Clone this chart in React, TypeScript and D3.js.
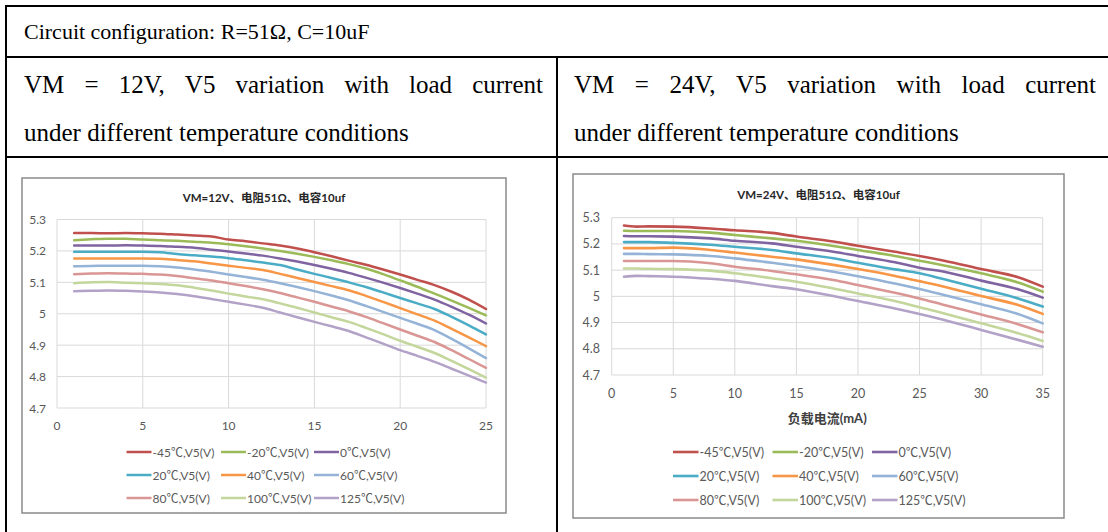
import React from 'react';
import * as d3 from 'd3';

// ---------- data ----------
const SERIES_NAMES = ['-45℃,V5(V)', '-20℃,V5(V)', '0℃,V5(V)', '20℃,V5(V)', '40℃,V5(V)', '60℃,V5(V)', '80℃,V5(V)', '100℃,V5(V)', '125℃,V5(V)'];
const SERIES_COLORS = ['#C0504D', '#9BBB59', '#8064A2', '#4BACC6', '#F79646', '#95B3D7', '#D99694', '#C3D69B', '#B3A2C7'];

const X_12V = [1, 2, 3, 4, 5, 6, 7, 8, 9, 10, 11, 12, 13, 14, 15, 16, 17, 18, 19, 20, 21, 22, 23, 24, 25];
const V12_M45 = [5.257, 5.257, 5.256, 5.257, 5.256, 5.255, 5.252, 5.249, 5.246, 5.236, 5.231, 5.224, 5.217, 5.208, 5.196, 5.183, 5.169, 5.156, 5.141, 5.125, 5.108, 5.091, 5.07, 5.045, 5.015];
const V12_M20 = [5.234, 5.237, 5.239, 5.239, 5.236, 5.234, 5.232, 5.229, 5.226, 5.221, 5.215, 5.208, 5.2, 5.191, 5.181, 5.17, 5.158, 5.144, 5.126, 5.106, 5.086, 5.064, 5.042, 5.019, 4.995];
const V12_0 = [5.217, 5.217, 5.217, 5.218, 5.217, 5.216, 5.213, 5.21, 5.204, 5.198, 5.192, 5.185, 5.176, 5.166, 5.155, 5.143, 5.13, 5.115, 5.099, 5.082, 5.064, 5.045, 5.022, 4.997, 4.969];
const V12_20 = [5.197, 5.197, 5.197, 5.197, 5.197, 5.196, 5.19, 5.186, 5.182, 5.177, 5.17, 5.163, 5.155, 5.141, 5.127, 5.114, 5.1, 5.085, 5.068, 5.05, 5.033, 5.015, 4.99, 4.963, 4.934];
const V12_40 = [5.176, 5.176, 5.176, 5.176, 5.176, 5.175, 5.171, 5.167, 5.16, 5.153, 5.146, 5.139, 5.127, 5.114, 5.101, 5.088, 5.075, 5.057, 5.038, 5.018, 4.998, 4.978, 4.952, 4.925, 4.897];
const V12_60 = [5.151, 5.152, 5.153, 5.153, 5.153, 5.151, 5.147, 5.141, 5.134, 5.125, 5.117, 5.108, 5.097, 5.085, 5.072, 5.058, 5.043, 5.025, 5.006, 4.987, 4.968, 4.948, 4.92, 4.89, 4.859];
const V12_80 = [5.126, 5.128, 5.129, 5.128, 5.127, 5.125, 5.12, 5.113, 5.106, 5.097, 5.088, 5.078, 5.066, 5.052, 5.038, 5.023, 5.008, 4.99, 4.97, 4.95, 4.93, 4.91, 4.884, 4.856, 4.828];
const V12_100 = [5.097, 5.1, 5.101, 5.099, 5.097, 5.095, 5.091, 5.083, 5.074, 5.064, 5.055, 5.046, 5.033, 5.019, 5.004, 4.989, 4.974, 4.955, 4.935, 4.914, 4.895, 4.875, 4.85, 4.824, 4.797];
const V12_125 = [5.072, 5.073, 5.074, 5.073, 5.071, 5.068, 5.063, 5.056, 5.047, 5.038, 5.029, 5.019, 5.004, 4.989, 4.974, 4.96, 4.945, 4.925, 4.905, 4.884, 4.866, 4.847, 4.825, 4.803, 4.781];

const X_24V = [1, 2, 3, 5, 8, 10, 13, 15, 18, 20, 23, 25, 27, 30, 33, 35];
const V24_M45 = [5.27, 5.266, 5.267, 5.266, 5.259, 5.252, 5.242, 5.228, 5.209, 5.193, 5.17, 5.154, 5.136, 5.104, 5.073, 5.037];
const V24_M20 = [5.25, 5.249, 5.249, 5.249, 5.243, 5.234, 5.221, 5.212, 5.192, 5.177, 5.154, 5.136, 5.118, 5.088, 5.053, 5.018];
const V24_0 = [5.23, 5.229, 5.229, 5.228, 5.221, 5.212, 5.202, 5.189, 5.17, 5.154, 5.13, 5.109, 5.094, 5.06, 5.027, 4.995];
const V24_20 = [5.207, 5.207, 5.207, 5.204, 5.197, 5.189, 5.177, 5.164, 5.145, 5.128, 5.103, 5.088, 5.065, 5.029, 4.992, 4.961];
const V24_40 = [5.184, 5.184, 5.184, 5.186, 5.177, 5.167, 5.151, 5.141, 5.12, 5.104, 5.078, 5.058, 5.037, 5.001, 4.967, 4.933];
const V24_60 = [5.162, 5.162, 5.161, 5.16, 5.154, 5.145, 5.128, 5.116, 5.094, 5.077, 5.049, 5.028, 5.005, 4.97, 4.933, 4.897];
const V24_80 = [5.135, 5.135, 5.135, 5.135, 5.126, 5.113, 5.097, 5.084, 5.062, 5.043, 5.014, 4.992, 4.967, 4.931, 4.894, 4.863];
const V24_100 = [5.106, 5.106, 5.105, 5.104, 5.098, 5.088, 5.069, 5.056, 5.03, 5.011, 4.982, 4.958, 4.935, 4.897, 4.859, 4.83];
const V24_125 = [5.075, 5.078, 5.077, 5.075, 5.067, 5.059, 5.039, 5.027, 5.001, 4.982, 4.954, 4.933, 4.91, 4.872, 4.834, 4.808];

const Y_TICKS = [4.7, 4.8, 4.9, 5, 5.1, 5.2, 5.3];
const X_TICKS_12V = [0, 5, 10, 15, 20, 25];
const X_TICKS_24V = [0, 5, 10, 15, 20, 25, 30, 35];

const HEADER_TEXT = 'Circuit configuration: R=51Ω, C=10uF';
const CELL1_LINE1 = 'VM = 12V, V5 variation with load current';
const CELL2_LINE1 = 'VM = 24V, V5 variation with load current';
const CELL_LINE2 = 'under different temperature conditions';
const TITLE_12V = 'VM=12V、电阻51Ω、电容10uf';
const TITLE_24V = 'VM=24V、电阻51Ω、电容10uf';
const XTITLE_24V = '负载电流(mA)';

const SERIES_12V = [V12_M45, V12_M20, V12_0, V12_20, V12_40, V12_60, V12_80, V12_100, V12_125];
const SERIES_24V = [V24_M45, V24_M20, V24_0, V24_20, V24_40, V24_60, V24_80, V24_100, V24_125];

// ---------- helpers ----------
const SERIF = "'Liberation Serif', 'Times New Roman', serif";
const SANS = "Lato, 'Noto Sans CJK SC', sans-serif";

let ctxCache: CanvasRenderingContext2D | null = null;
function measure(text: string, font: string): number {
  if (!ctxCache) ctxCache = document.createElement('canvas').getContext('2d');
  if (!ctxCache) return text.length * 10;
  ctxCache.font = font;
  return ctxCache.measureText(text).width;
}

function JustifiedLine({ text, x0, x1, y, size }: { text: string; x0: number; x1: number; y: number; size: number }) {
  const words = text.split(' ');
  const font = `${size}px 'Liberation Serif'`;
  const widths = words.map((w) => measure(w, font));
  const total = widths.reduce((a, b) => a + b, 0);
  const gap = (x1 - x0 - total) / (words.length - 1);
  let cx = x0;
  const xs = widths.map((w) => {
    const p = cx;
    cx += w + gap;
    return p;
  });
  return (
    <text y={y} fontFamily={SERIF} fontSize={size} fill="#000">
      {words.map((w, i) => (
        <tspan key={i} x={xs[i]}>
          {w}
        </tspan>
      ))}
    </text>
  );
}

type Cfg = {
  fx: number; fy: number; fw: number; fh: number;
  pl: number; pr: number; pt: number; pb: number;
  xMax: number; xTicks: number[];
  title: string; titleY: number;
  xTitle?: string; xTitleY?: number;
  tickSize: number; yLabelRight: number; xLabelY: number;
  legendCols: number[]; legendRows: number[]; legendLine: number; legendSize: number;
  lineWidth: number;
};

function Chart({ cfg, xs, series }: { cfg: Cfg; xs: number[]; series: number[][] }) {
  const x = d3.scaleLinear().domain([0, cfg.xMax]).range([cfg.pl, cfg.pr]);
  const y = d3.scaleLinear().domain([4.7, 5.3]).range([cfg.pb, cfg.pt]);
  const line = d3
    .line<[number, number]>()
    .x((d) => x(d[0]))
    .y((d) => y(d[1]))
    .curve(d3.curveMonotoneX);
  const fmt = (v: number) => String(Math.round(v * 10) / 10);
  return (
    <g>
      <rect x={cfg.fx} y={cfg.fy} width={cfg.fw} height={cfg.fh} fill="#fff" stroke="#8A8A8A" strokeWidth={1.5} />
      {Y_TICKS.map((t) => (
        <line key={'h' + t} x1={cfg.pl} x2={cfg.pr} y1={y(t)} y2={y(t)} stroke="#D9D9D9" strokeWidth={1} />
      ))}
      {cfg.xTicks.map((t) => (
        <line key={'v' + t} x1={x(t)} x2={x(t)} y1={cfg.pt} y2={cfg.pb} stroke="#D9D9D9" strokeWidth={1} />
      ))}
      {series.map((vals, i) => (
        <path
          key={'s' + i}
          d={line(xs.map((xv, j) => [xv, vals[j]] as [number, number])) || ''}
          fill="none"
          stroke={SERIES_COLORS[i]}
          strokeWidth={cfg.lineWidth}
          strokeLinejoin="round"
          strokeLinecap="round"
        />
      ))}
      {Y_TICKS.map((t) => (
        <text key={'yl' + t} x={cfg.yLabelRight} y={y(t)} textAnchor="end" dominantBaseline="central" fontFamily={SANS} fontSize={cfg.tickSize} fill="#595959">
          {fmt(t)}
        </text>
      ))}
      {cfg.xTicks.map((t) => (
        <text key={'xl' + t} x={x(t)} y={cfg.xLabelY} textAnchor="middle" dominantBaseline="central" fontFamily={SANS} fontSize={cfg.tickSize} fill="#595959">
          {t}
        </text>
      ))}
      <text x={cfg.fx + cfg.fw / 2} y={cfg.titleY} textAnchor="middle" dominantBaseline="central" fontFamily={SANS} fontWeight="bold" fontSize={11.5} fill="#262626">
        {cfg.title}
      </text>
      {cfg.xTitle && (
        <text x={(cfg.pl + cfg.pr) / 2} y={cfg.xTitleY} textAnchor="middle" dominantBaseline="central" fontFamily={SANS} fontWeight="bold" fontSize={13} fill="#404040">
          {cfg.xTitle}
        </text>
      )}
      {SERIES_NAMES.map((name, i) => {
        const col = i % 3;
        const row = Math.floor(i / 3);
        const lx = cfg.legendCols[col];
        const ly = cfg.legendRows[row];
        return (
          <g key={'lg' + i}>
            <line x1={lx} x2={lx + cfg.legendLine} y1={ly} y2={ly} stroke={SERIES_COLORS[i]} strokeWidth={cfg.lineWidth} />
            <text x={lx + cfg.legendLine + 1} y={ly} dominantBaseline="central" fontFamily={SANS} fontSize={cfg.legendSize} fill="#595959">
              {name}
            </text>
          </g>
        );
      })}
    </g>
  );
}

const CFG_12V: Cfg = {
  fx: 22, fy: 178, fw: 484, fh: 335,
  pl: 57, pr: 486, pt: 219.5, pb: 408,
  xMax: 25, xTicks: X_TICKS_12V,
  title: TITLE_12V, titleY: 197,
  tickSize: 12, yLabelRight: 46, xLabelY: 425,
  legendCols: [126.5, 221, 314], legendRows: [452, 475, 498], legendLine: 25, legendSize: 12,
  lineWidth: 2.5,
};

const CFG_24V: Cfg = {
  fx: 573, fy: 174, fw: 491, fh: 344,
  pl: 611.7, pr: 1042.7, pt: 217.7, pb: 375,
  xMax: 35, xTicks: X_TICKS_24V,
  title: TITLE_24V, titleY: 194,
  xTitle: XTITLE_24V, xTitleY: 418,
  tickSize: 12.5, yLabelRight: 600, xLabelY: 393,
  legendCols: [673, 772.5, 872], legendRows: [452, 476, 500], legendLine: 25.5, legendSize: 12.5,
  lineWidth: 2.6,
};

export default function App() {
  const fsHead = 22;
  const fs = 25;
  return (
    <svg width={1108} height={532} viewBox="0 0 1108 532" style={{ position: 'absolute', left: 0, top: 0, background: '#fff' }}>
      <rect x={0} y={0} width={1108} height={532} fill="#fff" />
      {/* table grid */}
      <g stroke="#000" strokeWidth={2}>
        <line x1={6} x2={1110} y1={6} y2={6} />
        <line x1={6} x2={1110} y1={57} y2={57} />
        <line x1={6} x2={1110} y1={157} y2={157} />
        <line x1={6} x2={6} y1={5} y2={533} />
        <line x1={557} x2={557} y1={57} y2={533} />
      </g>
      <text x={24} y={39} fontFamily={SERIF} fontSize={fsHead} fill="#000">
        {HEADER_TEXT}
      </text>
      <JustifiedLine text={CELL1_LINE1} x0={24} x1={543} y={93} size={fs} />
      <text x={24} y={141} fontFamily={SERIF} fontSize={fs} fill="#000">
        {CELL_LINE2}
      </text>
      <JustifiedLine text={CELL2_LINE1} x0={574} x1={1096} y={93} size={fs} />
      <text x={574} y={141} fontFamily={SERIF} fontSize={fs} fill="#000">
        {CELL_LINE2}
      </text>
      <Chart cfg={CFG_12V} xs={X_12V} series={SERIES_12V} />
      <Chart cfg={CFG_24V} xs={X_24V} series={SERIES_24V} />
    </svg>
  );
}
